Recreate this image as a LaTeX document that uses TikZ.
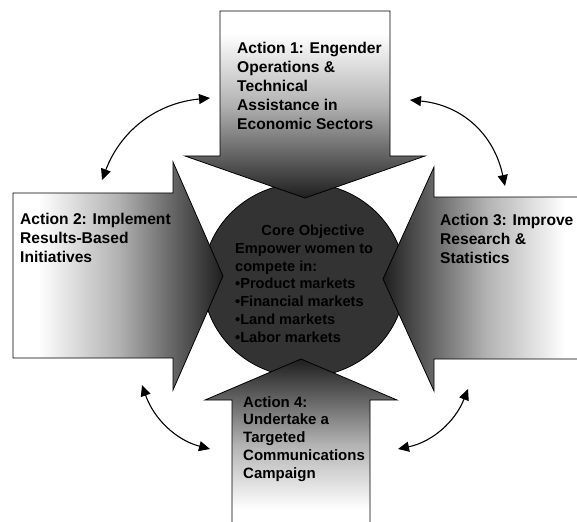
\documentclass[tikz,border=0pt]{standalone}
\usepackage{fontspec}
\setmainfont{Liberation Sans}
\usetikzlibrary{arrows.meta,shapes.geometric}
\pgfdeclarehorizontalshading{armshade}{100bp}{color(0bp)=(white); color(25bp)=(white); color(31bp)=(white); color(50bp)=(black!30); color(63bp)=(black!60); color(75bp)=(black!88); color(100bp)=(black!88)}
\tikzset{
  armpath/.style={draw=black, line width=0.8pt, shading=armshade},
  acttext/.style={inner sep=0pt, align=left, anchor=north west, font=\bfseries\fontsize{15.6}{19.2}\selectfont},
  coretext/.style={inner sep=0pt, align=left, font=\bfseries\fontsize{14.6}{17.7}\selectfont},
  dbl/.style={{Triangle[length=11pt,width=10pt]}-{Triangle[length=11pt,width=10pt]}, line width=1.1pt},
}
\begin{document}
\begin{tikzpicture}[x=1pt,y=-1pt]
\useasboundingbox (0,0) rectangle (577,521);
\clip (0,0) rectangle (577,521);
% core ellipse
\node[ellipse, draw=black, line width=0.8pt, fill=black!80, minimum width=202pt, minimum height=194pt, inner sep=0pt] (core) at (304,280) {};
% top arrow
\path[armpath, shading angle=-90] (220,11) -- (390,11) -- (390,156) -- (425,156) -- (305,198) -- (185,156) -- (220,156) -- cycle;
% left arrow
\path[armpath] (13,193) -- (173,193) -- (173,162) -- (223,276) -- (173,390) -- (173,358) -- (13,358) -- cycle;
% right arrow
\path[armpath, shading angle=180] (590,197) -- (434,197) -- (434,167) -- (383,279) -- (434,391) -- (434,359) -- (590,359) -- cycle;
% bottom arrow
\path[armpath, shading angle=90] (232,530) -- (232,400) -- (205,400) -- (301,359) -- (397,400) -- (370,400) -- (370,530) -- cycle;
% texts
\node[acttext] (a1) at (237,41.5) {Action 1: Engender\\Operations \&\\Technical\\Assistance in\\Economic Sectors};
\node[acttext] (a2) at (20,213) {Action 2: Implement\\Results-Based\\Initiatives};
\node[acttext] (a3) at (440,214) {Action 3: Improve\\Research \&\\Statistics};
\node[acttext, font=\bfseries\fontsize{15}{17.8}\selectfont] (a4) at (243,396) {Action 4:\\Undertake a\\Targeted\\Communications\\Campaign};
\node[coretext, anchor=north] (coretitle) at (313,225) {Core Objective};
\node[coretext, anchor=north west] (corebody) at (235,243.3) {Empower women to\\compete in:\\•Product markets\\•Financial markets\\•Land markets\\•Labor markets};
% curved double arrows
\coordinate (tl1) at (102,180);
\coordinate (tl2) at (210,98);
\coordinate (tr1) at (410,100);
\coordinate (tr2) at (505,186);
\coordinate (bl1) at (142,385);
\coordinate (bl2) at (210,449);
\coordinate (br1) at (398,449);
\coordinate (br2) at (468,389);
\draw[dbl] (tl1) .. controls (121,130) and (157,103) .. (tl2);
\draw[dbl] (tr1) .. controls (462,105) and (494,134) .. (tr2);
\draw[dbl] (bl1) .. controls (154,419) and (176,440) .. (bl2);
\draw[dbl] (br1) .. controls (432,442) and (455,422) .. (br2);
\end{tikzpicture}
\end{document}
